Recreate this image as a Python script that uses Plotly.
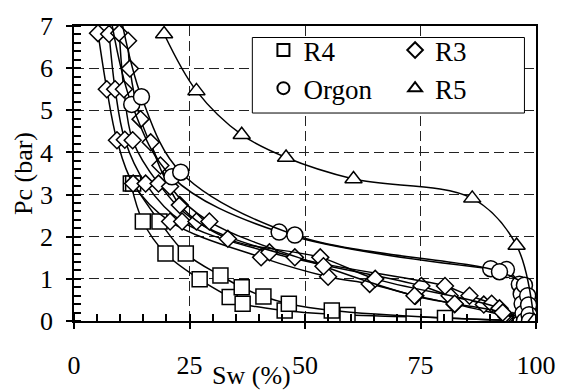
import plotly.graph_objects as go

# ---------------- data (Sw %, Pc bar) ----------------
r4_a_sw = [12.3, 14.9, 19.8, 27.2, 33.7, 36.5, 45.6, 59.2, 73.5, 97.5]
r4_a_pc = [3.26, 2.36, 1.60, 0.99, 0.57, 0.41, 0.25, 0.14, 0.10, 0.0]
r4_b_sw = [12.8, 18.5, 24.2, 31.7, 36.3, 41.0, 46.5, 55.8, 80.3, 99.0]
r4_b_pc = [3.26, 2.36, 1.60, 1.08, 0.80, 0.58, 0.41, 0.25, 0.07, 0.0]

r3_1_sw = [5.2, 7.1, 9.3, 12.8, 20.8, 40.5, 55.0, 64.0, 73.9, 82.4, 93.6, 95.0]
r3_1_pc = [6.83, 5.50, 4.29, 3.26, 2.36, 1.51, 1.05, 0.88, 0.60, 0.40, 0.10, 0.0]
r3_2_sw = [7.6, 8.9, 11.0, 15.5, 23.4, 42.3, 75.2, 81.3, 88.7, 94.3]
r3_2_pc = [6.81, 5.50, 4.30, 3.26, 2.36, 1.63, 0.83, 0.60, 0.39, 0.0]
r3_3_sw = [9.8, 10.8, 12.7, 18.3, 26.5, 47.8, 80.3, 85.6, 90.4, 95.5]
r3_3_pc = [6.83, 5.50, 4.29, 3.26, 2.36, 1.51, 0.83, 0.60, 0.41, 0.0]
r3_4_sw = [11.7, 12.1, 14.4, 18.7, 22.9, 33.3, 53.3, 65.2, 92.1, 96.0]
r3_4_pc = [6.65, 5.99, 4.79, 3.69, 2.75, 1.95, 1.51, 1.00, 0.30, 0.0]
r3_5_sw = [16.6, 20.8, 29.3, 54.0, 73.7, 82.4, 92.8, 96.5]
r3_5_pc = [4.24, 3.19, 2.36, 1.30, 0.60, 0.41, 0.20, 0.0]

org_a_sw = [7.8, 12.5, 21.2, 44.4, 90.2, 93.6, 96.4, 96.8, 97.0, 97.2, 97.5]
org_a_pc = [7.3, 5.14, 3.42, 2.11, 1.24, 1.22, 0.87, 0.64, 0.41, 0.18, 0.0]
org_b_sw = [10.0, 14.6, 23.1, 47.8, 92.1, 97.5, 98.2, 98.4, 98.5, 98.6]
org_b_pc = [7.3, 5.32, 3.53, 2.04, 1.17, 0.85, 0.60, 0.38, 0.15, 0.0]

r5_sw = [19.5, 26.5, 36.3, 45.9, 60.5, 86.2, 95.8, 99.6]
r5_pc = [6.81, 5.46, 4.42, 3.88, 3.37, 2.91, 1.79, 0.0]

x_ticks = [0, 25, 50, 75, 100]
y_ticks = [0, 1, 2, 3, 4, 5, 6, 7]

FONT = "Times New Roman"
FS = 26

series = [
    ("R4", "square", 15, [(r4_a_sw, r4_a_pc), (r4_b_sw, r4_b_pc)], "legend"),
    ("R3", "diamond", 13, [(r3_1_sw, r3_1_pc), (r3_2_sw, r3_2_pc), (r3_3_sw, r3_3_pc),
                          (r3_4_sw, r3_4_pc), (r3_5_sw, r3_5_pc)], "legend2"),
    ("Orgon", "circle", 16, [(org_a_sw, org_a_pc), (org_b_sw, org_b_pc)], "legend"),
    ("R5", "triangle-up", 15, [(r5_sw, r5_pc)], "legend2"),
]

fig = go.Figure()
for name, sym, size, curves, leg in series:
    for xs, ys in curves:
        fig.add_trace(go.Scatter(
            x=xs, y=ys, mode="lines+markers", name=name, showlegend=False,
            line=dict(color="black", width=1.5, shape="spline", smoothing=1.0),
            marker=dict(symbol=sym, size=size, color="white",
                        line=dict(color="black", width=1.5)),
        ))
for name, sym, size, curves, leg in series:
    fig.add_trace(go.Scatter(
        x=[None], y=[None], mode="markers", name=name, legend=leg,
        marker=dict(symbol=sym, size=size, color="white",
                    line=dict(color="black", width=1)),
    ))

axis_common = dict(
    showline=True, linecolor="black", linewidth=1.5, mirror=True,
    showgrid=True, gridcolor="#222", gridwidth=1, griddash="10px,5px",
    zeroline=False, ticks="outside", ticklen=6, tickcolor="black", tickwidth=1.5,
    tickfont=dict(family=FONT, size=FS, color="black"),
)

leg_common = dict(xanchor="left", yanchor="top", orientation="v",
                  bgcolor="rgba(0,0,0,0)", borderwidth=0,
                  font=dict(family=FONT, size=27, color="black"),
                  itemsizing="constant", tracegroupgap=1)

fig.update_layout(
    width=568, height=392,
    margin=dict(l=74, r=23, t=16, b=71),
    paper_bgcolor="white", plot_bgcolor="white",
    font=dict(family=FONT, size=FS, color="black"),
    xaxis=dict(range=[0, 100], tickvals=x_ticks, ticklabelstandoff=14,
               minor=dict(dtick=5, ticks="inside", ticklen=7, tickcolor="black",
                          tickwidth=1.5, showgrid=False),
               **axis_common),
    yaxis=dict(range=[0, 7], tickvals=y_ticks, ticklabelstandoff=8,
               title=dict(text="Pc (bar)", font=dict(family=FONT, size=FS), standoff=0),
               minor=dict(dtick=0.2, ticks="inside", ticklen=7, tickcolor="black",
                          tickwidth=1.5, showgrid=False),
               **axis_common),
    legend=dict(x=0.41, y=1.0, **leg_common),
    legend2=dict(x=0.695, y=1.0, **leg_common),
    shapes=[dict(type="rect", xref="paper", yref="paper",
                 x0=0.386, x1=0.975, y0=0.705, y1=0.961,
                 line=dict(color="black", width=1), fillcolor="white", layer="above")],
    annotations=[dict(text="Sw (%)", xref="paper", yref="paper",
                      x=0.384, y=-0.184, xanchor="center", yanchor="middle",
                      showarrow=False, font=dict(family=FONT, size=FS, color="black"))],
)

fig.write_html("out.html")
